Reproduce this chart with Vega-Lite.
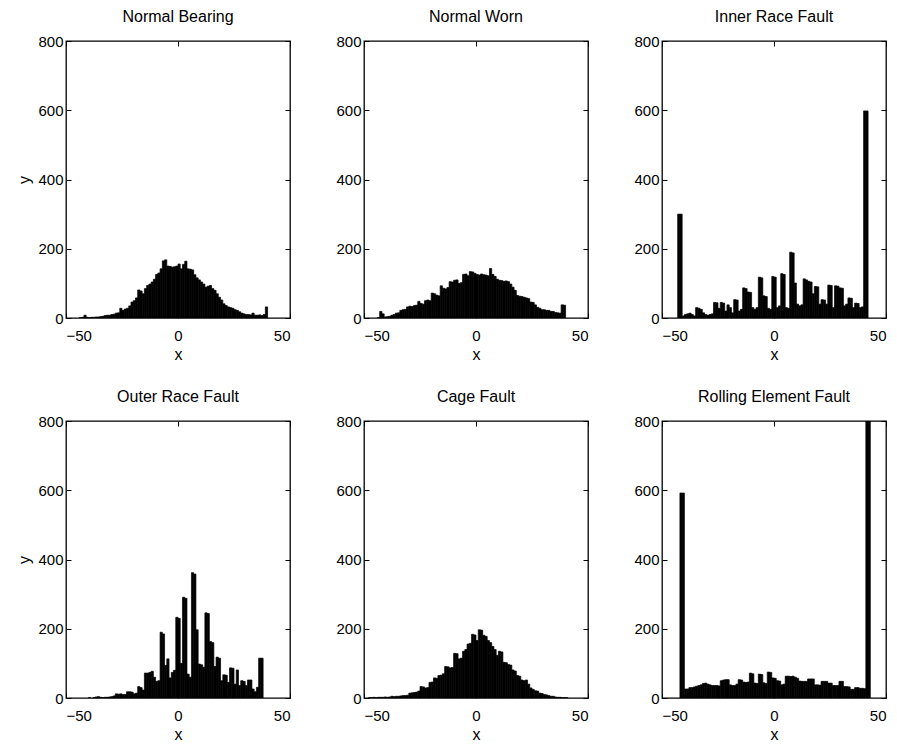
{
"$schema": "https://vega.github.io/schema/vega-lite/v6.json",
"background": "white",
"padding": {"left": 16, "top": 8, "right": 5, "bottom": 5},
"bounds": "flush",
"columns": 3,
"spacing": {"row": 103, "column": 74},
"datasets": {
"A": [
{"x0":-44,"x1":-43,"count":1},{"x0":-43,"x1":-42,"count":2},{"x0":-42,"x1":-41,"count":8},{"x0":-41,"x1":-40,"count":2},{"x0":-40,"x1":-39,"count":1},{"x0":-39,"x1":-38,"count":2},{"x0":-38,"x1":-37,"count":2},{"x0":-37,"x1":-36,"count":3},{"x0":-36,"x1":-35,"count":3},{"x0":-35,"x1":-34,"count":4},{"x0":-34,"x1":-33,"count":5},{"x0":-33,"x1":-32,"count":7},{"x0":-32,"x1":-31,"count":8},{"x0":-31,"x1":-30,"count":8},{"x0":-30,"x1":-29,"count":10},{"x0":-29,"x1":-28,"count":11},{"x0":-28,"x1":-27,"count":14},{"x0":-27,"x1":-26,"count":15},{"x0":-26,"x1":-25,"count":28},{"x0":-25,"x1":-24,"count":22},{"x0":-24,"x1":-23,"count":26},{"x0":-23,"x1":-22,"count":28},{"x0":-22,"x1":-21,"count":35},{"x0":-21,"x1":-20,"count":46},{"x0":-20,"x1":-19,"count":50},{"x0":-19,"x1":-18,"count":58},{"x0":-18,"x1":-17,"count":81},{"x0":-17,"x1":-16,"count":78},{"x0":-16,"x1":-15,"count":70},{"x0":-15,"x1":-14,"count":85},{"x0":-14,"x1":-13,"count":94},{"x0":-13,"x1":-12,"count":98},{"x0":-12,"x1":-11,"count":104},{"x0":-11,"x1":-10,"count":112},{"x0":-10,"x1":-9,"count":126},{"x0":-9,"x1":-8,"count":130},{"x0":-8,"x1":-7,"count":142},{"x0":-7,"x1":-6,"count":165},{"x0":-6,"x1":-5,"count":168},{"x0":-5,"x1":-4,"count":150},{"x0":-4,"x1":-3,"count":149},{"x0":-3,"x1":-2,"count":147},{"x0":-2,"x1":-1,"count":148},{"x0":-1,"x1":0,"count":150},{"x0":0,"x1":1,"count":156},{"x0":1,"x1":2,"count":142},{"x0":2,"x1":3,"count":155},{"x0":3,"x1":4,"count":164},{"x0":4,"x1":5,"count":142},{"x0":5,"x1":6,"count":141},{"x0":6,"x1":7,"count":139},{"x0":7,"x1":8,"count":125},{"x0":8,"x1":9,"count":116},{"x0":9,"x1":10,"count":110},{"x0":10,"x1":11,"count":104},{"x0":11,"x1":12,"count":98},{"x0":12,"x1":13,"count":89},{"x0":13,"x1":14,"count":92},{"x0":14,"x1":15,"count":94},{"x0":15,"x1":16,"count":85},{"x0":16,"x1":17,"count":80},{"x0":17,"x1":18,"count":70},{"x0":18,"x1":19,"count":60},{"x0":19,"x1":20,"count":52},{"x0":20,"x1":21,"count":41},{"x0":21,"x1":22,"count":36},{"x0":22,"x1":23,"count":32},{"x0":23,"x1":24,"count":30},{"x0":24,"x1":25,"count":28},{"x0":25,"x1":26,"count":24},{"x0":26,"x1":27,"count":22},{"x0":27,"x1":28,"count":18},{"x0":28,"x1":29,"count":14},{"x0":29,"x1":30,"count":12},{"x0":30,"x1":31,"count":10},{"x0":31,"x1":32,"count":10},{"x0":32,"x1":33,"count":9},{"x0":33,"x1":34,"count":14},{"x0":34,"x1":35,"count":8},{"x0":35,"x1":36,"count":8},{"x0":36,"x1":37,"count":9},{"x0":37,"x1":38,"count":7},{"x0":38,"x1":39,"count":10},{"x0":39,"x1":40,"count":32}
],
"B": [
{"x0":-44,"x1":-43,"count":1},{"x0":-43,"x1":-42,"count":19},{"x0":-42,"x1":-41,"count":12},{"x0":-41,"x1":-40,"count":3},{"x0":-40,"x1":-39,"count":4},{"x0":-39,"x1":-38,"count":5},{"x0":-38,"x1":-37,"count":8},{"x0":-37,"x1":-36,"count":10},{"x0":-36,"x1":-35,"count":14},{"x0":-35,"x1":-34,"count":15},{"x0":-34,"x1":-33,"count":22},{"x0":-33,"x1":-32,"count":24},{"x0":-32,"x1":-31,"count":25},{"x0":-31,"x1":-30,"count":32},{"x0":-30,"x1":-29,"count":34},{"x0":-29,"x1":-28,"count":33},{"x0":-28,"x1":-27,"count":36},{"x0":-27,"x1":-26,"count":37},{"x0":-26,"x1":-25,"count":48},{"x0":-25,"x1":-24,"count":42},{"x0":-24,"x1":-23,"count":40},{"x0":-23,"x1":-22,"count":50},{"x0":-22,"x1":-21,"count":52},{"x0":-21,"x1":-20,"count":50},{"x0":-20,"x1":-19,"count":72},{"x0":-19,"x1":-18,"count":70},{"x0":-18,"x1":-17,"count":66},{"x0":-17,"x1":-16,"count":64},{"x0":-16,"x1":-15,"count":93},{"x0":-15,"x1":-14,"count":86},{"x0":-14,"x1":-13,"count":84},{"x0":-13,"x1":-12,"count":88},{"x0":-12,"x1":-11,"count":105},{"x0":-11,"x1":-10,"count":104},{"x0":-10,"x1":-9,"count":109},{"x0":-9,"x1":-8,"count":110},{"x0":-8,"x1":-7,"count":100},{"x0":-7,"x1":-6,"count":102},{"x0":-6,"x1":-5,"count":126},{"x0":-5,"x1":-4,"count":127},{"x0":-4,"x1":-3,"count":122},{"x0":-3,"x1":-2,"count":134},{"x0":-2,"x1":-1,"count":133},{"x0":-1,"x1":0,"count":129},{"x0":0,"x1":1,"count":126},{"x0":1,"x1":2,"count":124},{"x0":2,"x1":3,"count":127},{"x0":3,"x1":4,"count":125},{"x0":4,"x1":5,"count":124},{"x0":5,"x1":6,"count":122},{"x0":6,"x1":7,"count":143},{"x0":7,"x1":8,"count":126},{"x0":8,"x1":9,"count":120},{"x0":9,"x1":10,"count":112},{"x0":10,"x1":11,"count":109},{"x0":11,"x1":12,"count":108},{"x0":12,"x1":13,"count":106},{"x0":13,"x1":14,"count":107},{"x0":14,"x1":15,"count":105},{"x0":15,"x1":16,"count":98},{"x0":16,"x1":17,"count":89},{"x0":17,"x1":18,"count":80},{"x0":18,"x1":19,"count":65},{"x0":19,"x1":20,"count":63},{"x0":20,"x1":21,"count":62},{"x0":21,"x1":22,"count":60},{"x0":22,"x1":23,"count":58},{"x0":23,"x1":24,"count":56},{"x0":24,"x1":25,"count":46},{"x0":25,"x1":26,"count":45},{"x0":26,"x1":27,"count":38},{"x0":27,"x1":28,"count":31},{"x0":28,"x1":29,"count":28},{"x0":29,"x1":30,"count":24},{"x0":30,"x1":31,"count":24},{"x0":31,"x1":32,"count":22},{"x0":32,"x1":33,"count":22},{"x0":33,"x1":34,"count":19},{"x0":34,"x1":35,"count":19},{"x0":35,"x1":36,"count":16},{"x0":36,"x1":37,"count":15},{"x0":37,"x1":38,"count":14},{"x0":38,"x1":39,"count":38},{"x0":39,"x1":40,"count":37}
],
"C": [
{"x0":-43,"x1":-42,"count":300},{"x0":-42,"x1":-41,"count":300},{"x0":-41,"x1":-40,"count":6},{"x0":-40,"x1":-39,"count":10},{"x0":-39,"x1":-38,"count":12},{"x0":-38,"x1":-37,"count":14},{"x0":-37,"x1":-36,"count":10},{"x0":-36,"x1":-35,"count":6},{"x0":-35,"x1":-34,"count":30},{"x0":-34,"x1":-33,"count":28},{"x0":-33,"x1":-32,"count":25},{"x0":-32,"x1":-31,"count":15},{"x0":-31,"x1":-30,"count":10},{"x0":-30,"x1":-29,"count":8},{"x0":-29,"x1":-28,"count":10},{"x0":-28,"x1":-27,"count":12},{"x0":-27,"x1":-26,"count":45},{"x0":-26,"x1":-25,"count":44},{"x0":-25,"x1":-24,"count":28},{"x0":-24,"x1":-23,"count":45},{"x0":-23,"x1":-22,"count":43},{"x0":-22,"x1":-21,"count":20},{"x0":-21,"x1":-20,"count":38},{"x0":-20,"x1":-19,"count":30},{"x0":-19,"x1":-18,"count":15},{"x0":-18,"x1":-17,"count":53},{"x0":-17,"x1":-16,"count":52},{"x0":-16,"x1":-15,"count":20},{"x0":-15,"x1":-14,"count":25},{"x0":-14,"x1":-13,"count":87},{"x0":-13,"x1":-12,"count":85},{"x0":-12,"x1":-11,"count":75},{"x0":-11,"x1":-10,"count":74},{"x0":-10,"x1":-9,"count":30},{"x0":-9,"x1":-8,"count":25},{"x0":-8,"x1":-7,"count":30},{"x0":-7,"x1":-6,"count":118},{"x0":-6,"x1":-5,"count":116},{"x0":-5,"x1":-4,"count":64},{"x0":-4,"x1":-3,"count":62},{"x0":-3,"x1":-2,"count":28},{"x0":-2,"x1":-1,"count":25},{"x0":-1,"x1":0,"count":120},{"x0":0,"x1":1,"count":118},{"x0":1,"x1":2,"count":30},{"x0":2,"x1":3,"count":35},{"x0":3,"x1":4,"count":128},{"x0":4,"x1":5,"count":126},{"x0":5,"x1":6,"count":30},{"x0":6,"x1":7,"count":28},{"x0":7,"x1":8,"count":190},{"x0":8,"x1":9,"count":188},{"x0":9,"x1":10,"count":101},{"x0":10,"x1":11,"count":40},{"x0":11,"x1":12,"count":35},{"x0":12,"x1":13,"count":38},{"x0":13,"x1":14,"count":113},{"x0":14,"x1":15,"count":110},{"x0":15,"x1":16,"count":106},{"x0":16,"x1":17,"count":104},{"x0":17,"x1":18,"count":70},{"x0":18,"x1":19,"count":91},{"x0":19,"x1":20,"count":90},{"x0":20,"x1":21,"count":40},{"x0":21,"x1":22,"count":53},{"x0":22,"x1":23,"count":52},{"x0":23,"x1":24,"count":40},{"x0":24,"x1":25,"count":95},{"x0":25,"x1":26,"count":94},{"x0":26,"x1":27,"count":30},{"x0":27,"x1":28,"count":93},{"x0":28,"x1":29,"count":92},{"x0":29,"x1":30,"count":87},{"x0":30,"x1":31,"count":86},{"x0":31,"x1":32,"count":35},{"x0":32,"x1":33,"count":40},{"x0":33,"x1":34,"count":58},{"x0":34,"x1":35,"count":57},{"x0":35,"x1":36,"count":30},{"x0":36,"x1":37,"count":43},{"x0":37,"x1":38,"count":42},{"x0":38,"x1":39,"count":30},{"x0":39,"x1":40,"count":32},{"x0":40,"x1":41,"count":598},{"x0":41,"x1":42,"count":598}
],
"D": [
{"x0":-40,"x1":-39,"count":1},{"x0":-38,"x1":-37,"count":1},{"x0":-37,"x1":-36,"count":3},{"x0":-36,"x1":-35,"count":4},{"x0":-35,"x1":-34,"count":2},{"x0":-34,"x1":-33,"count":1},{"x0":-33,"x1":-32,"count":2},{"x0":-32,"x1":-31,"count":2},{"x0":-31,"x1":-30,"count":3},{"x0":-30,"x1":-29,"count":4},{"x0":-29,"x1":-28,"count":6},{"x0":-28,"x1":-27,"count":12},{"x0":-27,"x1":-26,"count":11},{"x0":-26,"x1":-25,"count":12},{"x0":-25,"x1":-24,"count":10},{"x0":-24,"x1":-23,"count":10},{"x0":-23,"x1":-22,"count":18},{"x0":-22,"x1":-21,"count":18},{"x0":-21,"x1":-20,"count":17},{"x0":-20,"x1":-19,"count":12},{"x0":-19,"x1":-18,"count":14},{"x0":-18,"x1":-17,"count":33},{"x0":-17,"x1":-16,"count":30},{"x0":-16,"x1":-15,"count":23},{"x0":-15,"x1":-14,"count":72},{"x0":-14,"x1":-13,"count":72},{"x0":-13,"x1":-12,"count":74},{"x0":-12,"x1":-11,"count":77},{"x0":-11,"x1":-10,"count":60},{"x0":-10,"x1":-9,"count":48},{"x0":-9,"x1":-8,"count":50},{"x0":-8,"x1":-7,"count":190},{"x0":-7,"x1":-6,"count":185},{"x0":-6,"x1":-5,"count":94},{"x0":-5,"x1":-4,"count":113},{"x0":-4,"x1":-3,"count":58},{"x0":-3,"x1":-2,"count":74},{"x0":-2,"x1":-1,"count":80},{"x0":-1,"x1":0,"count":233},{"x0":0,"x1":1,"count":230},{"x0":1,"x1":2,"count":100},{"x0":2,"x1":3,"count":291},{"x0":3,"x1":4,"count":288},{"x0":4,"x1":5,"count":69},{"x0":5,"x1":6,"count":60},{"x0":6,"x1":7,"count":362},{"x0":7,"x1":8,"count":358},{"x0":8,"x1":9,"count":197},{"x0":9,"x1":10,"count":98},{"x0":10,"x1":11,"count":96},{"x0":11,"x1":12,"count":89},{"x0":12,"x1":13,"count":246},{"x0":13,"x1":14,"count":244},{"x0":14,"x1":15,"count":163},{"x0":15,"x1":16,"count":160},{"x0":16,"x1":17,"count":91},{"x0":17,"x1":18,"count":118},{"x0":18,"x1":19,"count":115},{"x0":19,"x1":20,"count":50},{"x0":20,"x1":21,"count":67},{"x0":21,"x1":22,"count":66},{"x0":22,"x1":23,"count":45},{"x0":23,"x1":24,"count":87},{"x0":24,"x1":25,"count":86},{"x0":25,"x1":26,"count":40},{"x0":26,"x1":27,"count":81},{"x0":27,"x1":28,"count":36},{"x0":28,"x1":29,"count":50},{"x0":29,"x1":30,"count":48},{"x0":30,"x1":31,"count":36},{"x0":31,"x1":32,"count":52},{"x0":32,"x1":33,"count":52},{"x0":33,"x1":34,"count":26},{"x0":34,"x1":35,"count":18},{"x0":35,"x1":36,"count":31},{"x0":36,"x1":37,"count":115},{"x0":37,"x1":38,"count":115}
],
"E": [
{"x0":-48,"x1":-47,"count":1},{"x0":-47,"x1":-46,"count":1},{"x0":-46,"x1":-45,"count":2},{"x0":-45,"x1":-44,"count":1},{"x0":-44,"x1":-43,"count":2},{"x0":-43,"x1":-42,"count":2},{"x0":-42,"x1":-41,"count":2},{"x0":-41,"x1":-40,"count":3},{"x0":-40,"x1":-39,"count":2},{"x0":-39,"x1":-38,"count":3},{"x0":-38,"x1":-37,"count":5},{"x0":-37,"x1":-36,"count":4},{"x0":-36,"x1":-35,"count":5},{"x0":-35,"x1":-34,"count":5},{"x0":-34,"x1":-33,"count":6},{"x0":-33,"x1":-32,"count":7},{"x0":-32,"x1":-31,"count":7},{"x0":-31,"x1":-30,"count":8},{"x0":-30,"x1":-29,"count":14},{"x0":-29,"x1":-28,"count":15},{"x0":-28,"x1":-27,"count":16},{"x0":-27,"x1":-26,"count":17},{"x0":-26,"x1":-25,"count":20},{"x0":-25,"x1":-24,"count":33},{"x0":-24,"x1":-23,"count":32},{"x0":-23,"x1":-22,"count":29},{"x0":-22,"x1":-21,"count":30},{"x0":-21,"x1":-20,"count":45},{"x0":-20,"x1":-19,"count":46},{"x0":-19,"x1":-18,"count":58},{"x0":-18,"x1":-17,"count":57},{"x0":-17,"x1":-16,"count":65},{"x0":-16,"x1":-15,"count":66},{"x0":-15,"x1":-14,"count":70},{"x0":-14,"x1":-13,"count":91},{"x0":-13,"x1":-12,"count":90},{"x0":-12,"x1":-11,"count":87},{"x0":-11,"x1":-10,"count":88},{"x0":-10,"x1":-9,"count":129},{"x0":-9,"x1":-8,"count":128},{"x0":-8,"x1":-7,"count":113},{"x0":-7,"x1":-6,"count":115},{"x0":-6,"x1":-5,"count":135},{"x0":-5,"x1":-4,"count":140},{"x0":-4,"x1":-3,"count":156},{"x0":-3,"x1":-2,"count":158},{"x0":-2,"x1":-1,"count":184},{"x0":-1,"x1":0,"count":182},{"x0":0,"x1":1,"count":166},{"x0":1,"x1":2,"count":197},{"x0":2,"x1":3,"count":196},{"x0":3,"x1":4,"count":181},{"x0":4,"x1":5,"count":178},{"x0":5,"x1":6,"count":166},{"x0":6,"x1":7,"count":160},{"x0":7,"x1":8,"count":149},{"x0":8,"x1":9,"count":140},{"x0":9,"x1":10,"count":123},{"x0":10,"x1":11,"count":135},{"x0":11,"x1":12,"count":133},{"x0":12,"x1":13,"count":103},{"x0":13,"x1":14,"count":102},{"x0":14,"x1":15,"count":97},{"x0":15,"x1":16,"count":95},{"x0":16,"x1":17,"count":81},{"x0":17,"x1":18,"count":78},{"x0":18,"x1":19,"count":65},{"x0":19,"x1":20,"count":63},{"x0":20,"x1":21,"count":52},{"x0":21,"x1":22,"count":50},{"x0":22,"x1":23,"count":52},{"x0":23,"x1":24,"count":40},{"x0":24,"x1":25,"count":29},{"x0":25,"x1":26,"count":25},{"x0":26,"x1":27,"count":21},{"x0":27,"x1":28,"count":20},{"x0":28,"x1":29,"count":14},{"x0":29,"x1":30,"count":13},{"x0":30,"x1":31,"count":10},{"x0":31,"x1":32,"count":9},{"x0":32,"x1":33,"count":7},{"x0":33,"x1":34,"count":5},{"x0":34,"x1":35,"count":5},{"x0":35,"x1":36,"count":3},{"x0":36,"x1":37,"count":2},{"x0":37,"x1":38,"count":2},{"x0":38,"x1":39,"count":1},{"x0":39,"x1":40,"count":1},{"x0":40,"x1":41,"count":1}
],
"F": [
{"x0":-42,"x1":-41,"count":592},{"x0":-41,"x1":-40,"count":592},{"x0":-40,"x1":-39,"count":26},{"x0":-39,"x1":-38,"count":26},{"x0":-38,"x1":-37,"count":30},{"x0":-37,"x1":-36,"count":30},{"x0":-36,"x1":-35,"count":32},{"x0":-35,"x1":-34,"count":34},{"x0":-34,"x1":-33,"count":36},{"x0":-33,"x1":-32,"count":38},{"x0":-32,"x1":-31,"count":42},{"x0":-31,"x1":-30,"count":43},{"x0":-30,"x1":-29,"count":40},{"x0":-29,"x1":-28,"count":38},{"x0":-28,"x1":-27,"count":36},{"x0":-27,"x1":-26,"count":36},{"x0":-26,"x1":-25,"count":36},{"x0":-25,"x1":-24,"count":35},{"x0":-24,"x1":-23,"count":50},{"x0":-23,"x1":-22,"count":52},{"x0":-22,"x1":-21,"count":53},{"x0":-21,"x1":-20,"count":53},{"x0":-20,"x1":-19,"count":38},{"x0":-19,"x1":-18,"count":36},{"x0":-18,"x1":-17,"count":36},{"x0":-17,"x1":-16,"count":40},{"x0":-16,"x1":-15,"count":53},{"x0":-15,"x1":-14,"count":52},{"x0":-14,"x1":-13,"count":46},{"x0":-13,"x1":-12,"count":45},{"x0":-12,"x1":-11,"count":46},{"x0":-11,"x1":-10,"count":72},{"x0":-10,"x1":-9,"count":70},{"x0":-9,"x1":-8,"count":43},{"x0":-8,"x1":-7,"count":42},{"x0":-7,"x1":-6,"count":69},{"x0":-6,"x1":-5,"count":68},{"x0":-5,"x1":-4,"count":44},{"x0":-4,"x1":-3,"count":42},{"x0":-3,"x1":-2,"count":75},{"x0":-2,"x1":-1,"count":74},{"x0":-1,"x1":0,"count":58},{"x0":0,"x1":1,"count":57},{"x0":1,"x1":2,"count":50},{"x0":2,"x1":3,"count":49},{"x0":3,"x1":4,"count":38},{"x0":4,"x1":5,"count":40},{"x0":5,"x1":6,"count":63},{"x0":6,"x1":7,"count":63},{"x0":7,"x1":8,"count":62},{"x0":8,"x1":9,"count":63},{"x0":9,"x1":10,"count":60},{"x0":10,"x1":11,"count":57},{"x0":11,"x1":12,"count":49},{"x0":12,"x1":13,"count":48},{"x0":13,"x1":14,"count":48},{"x0":14,"x1":15,"count":48},{"x0":15,"x1":16,"count":55},{"x0":16,"x1":17,"count":55},{"x0":17,"x1":18,"count":55},{"x0":18,"x1":19,"count":38},{"x0":19,"x1":20,"count":38},{"x0":20,"x1":21,"count":37},{"x0":21,"x1":22,"count":48},{"x0":22,"x1":23,"count":48},{"x0":23,"x1":24,"count":48},{"x0":24,"x1":25,"count":43},{"x0":25,"x1":26,"count":43},{"x0":26,"x1":27,"count":36},{"x0":27,"x1":28,"count":36},{"x0":28,"x1":29,"count":36},{"x0":29,"x1":30,"count":48},{"x0":30,"x1":31,"count":48},{"x0":31,"x1":32,"count":33},{"x0":32,"x1":33,"count":33},{"x0":33,"x1":34,"count":32},{"x0":34,"x1":35,"count":25},{"x0":35,"x1":36,"count":25},{"x0":36,"x1":37,"count":30},{"x0":37,"x1":38,"count":30},{"x0":38,"x1":39,"count":28},{"x0":39,"x1":40,"count":28},{"x0":40,"x1":41,"count":27},{"x0":41,"x1":42,"count":800},{"x0":42,"x1":43,"count":800}
]
},
"concat": [
{"width": 224, "height": 277, "title": "Normal Bearing", "data": {"name": "A"},
 "layer": [
  {"mark": {"type": "bar", "color": "black", "clip": true}, "encoding": {
   "x": {"field": "x0", "type": "quantitative", "scale": {"domain": [-50, 50]}, "axis": {"values": [-50, 0, 50], "title": "x"}},
   "x2": {"field": "x1"},
   "y": {"field": "count", "type": "quantitative", "scale": {"domain": [0, 800]}, "axis": {"values": [0, 200, 400, 600, 800], "title": "y"}},
   "y2": {"datum": 0}}},
  {"mark": {"type": "bar", "opacity": 0, "clip": true}, "encoding": {
   "x": {"field": "x0", "type": "quantitative", "axis": {"orient": "top", "labels": false, "title": null, "values": [-50, 0, 50]}},
   "x2": {"field": "x1"},
   "y": {"field": "count", "type": "quantitative", "axis": {"orient": "right", "labels": false, "title": null, "values": [0, 200, 400, 600, 800]}},
   "y2": {"datum": 0}}}
 ],
 "resolve": {"axis": {"x": "independent", "y": "independent"}}},
{"width": 224, "height": 277, "title": "Normal Worn", "data": {"name": "B"},
 "layer": [
  {"mark": {"type": "bar", "color": "black", "clip": true}, "encoding": {
   "x": {"field": "x0", "type": "quantitative", "scale": {"domain": [-50, 50]}, "axis": {"values": [-50, 0, 50], "title": "x"}},
   "x2": {"field": "x1"},
   "y": {"field": "count", "type": "quantitative", "scale": {"domain": [0, 800]}, "axis": {"values": [0, 200, 400, 600, 800], "title": null}},
   "y2": {"datum": 0}}},
  {"mark": {"type": "bar", "opacity": 0, "clip": true}, "encoding": {
   "x": {"field": "x0", "type": "quantitative", "axis": {"orient": "top", "labels": false, "title": null, "values": [-50, 0, 50]}},
   "x2": {"field": "x1"},
   "y": {"field": "count", "type": "quantitative", "axis": {"orient": "right", "labels": false, "title": null, "values": [0, 200, 400, 600, 800]}},
   "y2": {"datum": 0}}}
 ],
 "resolve": {"axis": {"x": "independent", "y": "independent"}}},
{"width": 224, "height": 277, "title": "Inner Race Fault", "data": {"name": "C"},
 "layer": [
  {"mark": {"type": "bar", "color": "black", "clip": true}, "encoding": {
   "x": {"field": "x0", "type": "quantitative", "scale": {"domain": [-50, 50]}, "axis": {"values": [-50, 0, 50], "title": "x"}},
   "x2": {"field": "x1"},
   "y": {"field": "count", "type": "quantitative", "scale": {"domain": [0, 800]}, "axis": {"values": [0, 200, 400, 600, 800], "title": null}},
   "y2": {"datum": 0}}},
  {"mark": {"type": "bar", "opacity": 0, "clip": true}, "encoding": {
   "x": {"field": "x0", "type": "quantitative", "axis": {"orient": "top", "labels": false, "title": null, "values": [-50, 0, 50]}},
   "x2": {"field": "x1"},
   "y": {"field": "count", "type": "quantitative", "axis": {"orient": "right", "labels": false, "title": null, "values": [0, 200, 400, 600, 800]}},
   "y2": {"datum": 0}}}
 ],
 "resolve": {"axis": {"x": "independent", "y": "independent"}}},
{"width": 224, "height": 277, "title": "Outer Race Fault", "data": {"name": "D"},
 "layer": [
  {"mark": {"type": "bar", "color": "black", "clip": true}, "encoding": {
   "x": {"field": "x0", "type": "quantitative", "scale": {"domain": [-50, 50]}, "axis": {"values": [-50, 0, 50], "title": "x"}},
   "x2": {"field": "x1"},
   "y": {"field": "count", "type": "quantitative", "scale": {"domain": [0, 800]}, "axis": {"values": [0, 200, 400, 600, 800], "title": "y"}},
   "y2": {"datum": 0}}},
  {"mark": {"type": "bar", "opacity": 0, "clip": true}, "encoding": {
   "x": {"field": "x0", "type": "quantitative", "axis": {"orient": "top", "labels": false, "title": null, "values": [-50, 0, 50]}},
   "x2": {"field": "x1"},
   "y": {"field": "count", "type": "quantitative", "axis": {"orient": "right", "labels": false, "title": null, "values": [0, 200, 400, 600, 800]}},
   "y2": {"datum": 0}}}
 ],
 "resolve": {"axis": {"x": "independent", "y": "independent"}}},
{"width": 224, "height": 277, "title": "Cage Fault", "data": {"name": "E"},
 "layer": [
  {"mark": {"type": "bar", "color": "black", "clip": true}, "encoding": {
   "x": {"field": "x0", "type": "quantitative", "scale": {"domain": [-50, 50]}, "axis": {"values": [-50, 0, 50], "title": "x"}},
   "x2": {"field": "x1"},
   "y": {"field": "count", "type": "quantitative", "scale": {"domain": [0, 800]}, "axis": {"values": [0, 200, 400, 600, 800], "title": null}},
   "y2": {"datum": 0}}},
  {"mark": {"type": "bar", "opacity": 0, "clip": true}, "encoding": {
   "x": {"field": "x0", "type": "quantitative", "axis": {"orient": "top", "labels": false, "title": null, "values": [-50, 0, 50]}},
   "x2": {"field": "x1"},
   "y": {"field": "count", "type": "quantitative", "axis": {"orient": "right", "labels": false, "title": null, "values": [0, 200, 400, 600, 800]}},
   "y2": {"datum": 0}}}
 ],
 "resolve": {"axis": {"x": "independent", "y": "independent"}}},
{"width": 224, "height": 277, "title": "Rolling Element Fault", "data": {"name": "F"},
 "layer": [
  {"mark": {"type": "bar", "color": "black", "clip": true}, "encoding": {
   "x": {"field": "x0", "type": "quantitative", "scale": {"domain": [-50, 50]}, "axis": {"values": [-50, 0, 50], "title": "x"}},
   "x2": {"field": "x1"},
   "y": {"field": "count", "type": "quantitative", "scale": {"domain": [0, 800]}, "axis": {"values": [0, 200, 400, 600, 800], "title": null}},
   "y2": {"datum": 0}}},
  {"mark": {"type": "bar", "opacity": 0, "clip": true}, "encoding": {
   "x": {"field": "x0", "type": "quantitative", "axis": {"orient": "top", "labels": false, "title": null, "values": [-50, 0, 50]}},
   "x2": {"field": "x1"},
   "y": {"field": "count", "type": "quantitative", "axis": {"orient": "right", "labels": false, "title": null, "values": [0, 200, 400, 600, 800]}},
   "y2": {"datum": 0}}}
 ],
 "resolve": {"axis": {"x": "independent", "y": "independent"}}}
],
"config": {
 "font": "Liberation Sans",
 "view": {"stroke": "black", "strokeWidth": 1.3},
 "bar": {"stroke": "black", "strokeWidth": 0.7},
 "axis": {"grid": false, "domain": false, "labelFont": "Liberation Sans", "labelFontSize": 15, "labelColor": "black", "tickColor": "black", "tickSize": -5, "tickWidth": 1, "titleFont": "Liberation Sans", "titleFontSize": 16, "titleFontWeight": "normal", "titleColor": "black"},
 "axisX": {"labelPadding": 15, "titlePadding": 3},
 "axisY": {"labelPadding": 8, "titlePadding": 5},
 "title": {"font": "Liberation Sans", "fontSize": 16, "fontWeight": "normal", "color": "black", "offset": 9}
}
}
